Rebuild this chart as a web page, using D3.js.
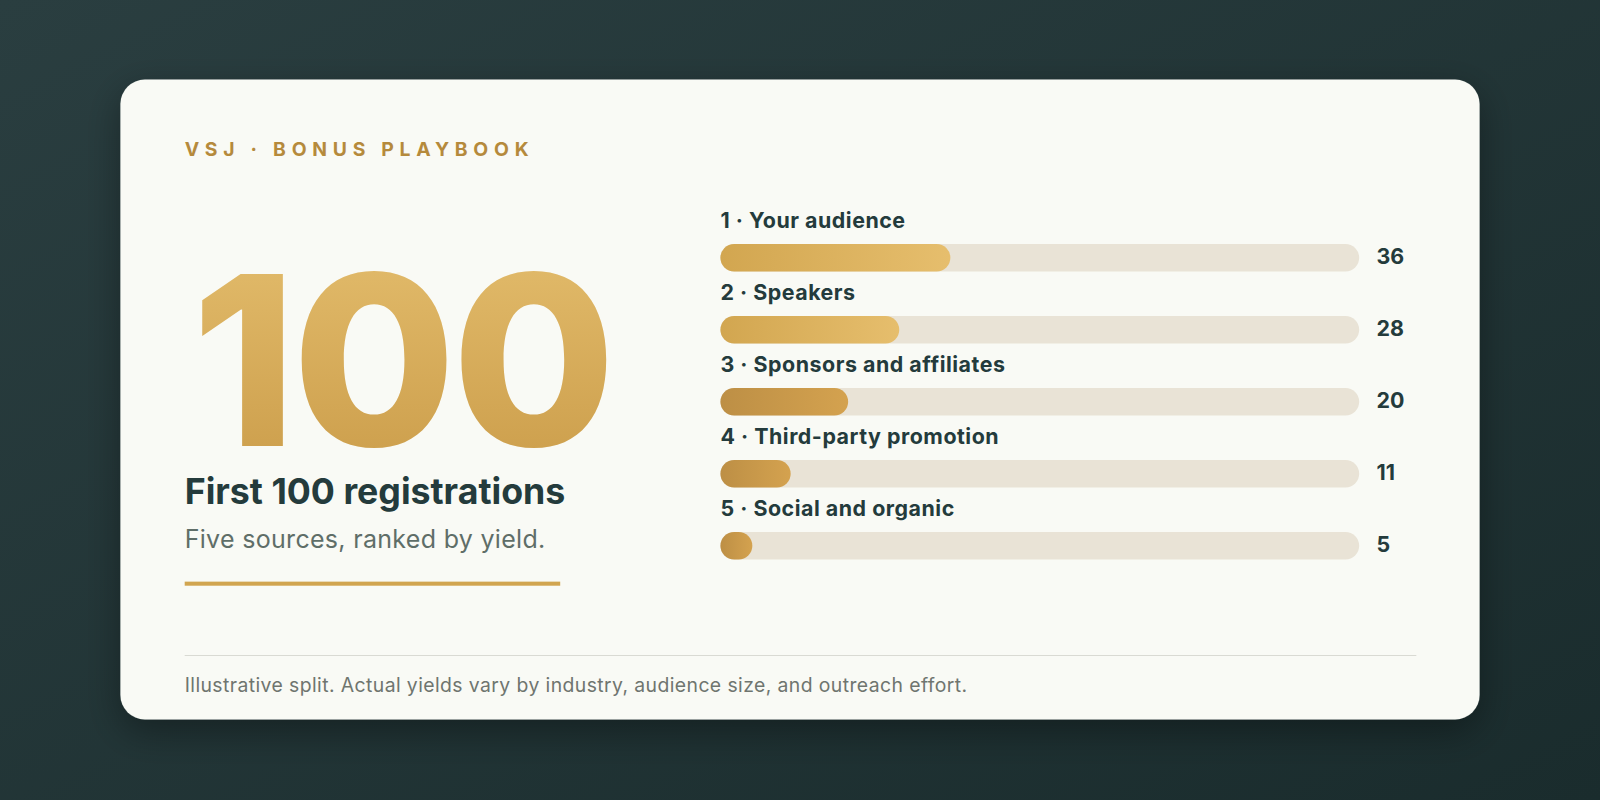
<!DOCTYPE html>
<html><head><meta charset="utf-8">
<script src="https://cdn.jsdelivr.net/npm/d3@7"></script>
<style>html,body{margin:0;padding:0;background:#21363a;}svg{display:block;}</style>
</head><body>
<svg id="c" width="1600" height="800"></svg>
<script>
const categories = ["1 · Your audience","2 · Speakers","3 · Sponsors and affiliates","4 · Third-party promotion","5 · Social and organic"];
const values = [36, 28, 20, 11, 5];
const total = 100;

const svg = d3.select("#c");
const defs = svg.append("defs");
const bg = defs.append("linearGradient").attr("id","bg").attr("x1",0).attr("y1",0).attr("x2",1).attr("y2",1);
bg.append("stop").attr("offset",0).attr("stop-color","#2a3e40");
bg.append("stop").attr("offset",1).attr("stop-color","#1a2c2d");
const big = defs.append("linearGradient").attr("id","big").attr("x1",0).attr("y1",0).attr("x2",0).attr("y2",1);
big.append("stop").attr("offset",0).attr("stop-color","#e5bf6f");
big.append("stop").attr("offset",1).attr("stop-color","#c99a47");
const g1 = defs.append("linearGradient").attr("id","g1");
g1.append("stop").attr("offset",0).attr("stop-color","#d2a650");
g1.append("stop").attr("offset",1).attr("stop-color","#e6be6d");
const g2 = defs.append("linearGradient").attr("id","g2");
g2.append("stop").attr("offset",0).attr("stop-color","#bd8f45");
g2.append("stop").attr("offset",1).attr("stop-color","#d4a24f");
const sh = defs.append("filter").attr("id","sh").attr("x","-10%").attr("y","-10%").attr("width","120%").attr("height","130%");
sh.append("feDropShadow").attr("dx",0).attr("dy",12).attr("stdDeviation",18).attr("flood-color","#000").attr("flood-opacity",0.35);

svg.append("rect").attr("width",1600).attr("height",800).attr("fill","url(#bg)");
const root = svg.append("g").attr("transform","scale(" + (1600/1568) + ")");
root.append("rect").attr("x",118).attr("y",78).attr("width",1332).attr("height",627).attr("rx",24).attr("fill","#f9faf5").attr("filter","url(#sh)");

const F = "Inter, 'Noto Sans', sans-serif";
root.append("text").attr("x",181).attr("y",153).text("VSJ · BONUS PLAYBOOK")
  .attr("font-family",F).attr("font-size",19).attr("font-weight",700).attr("letter-spacing",5.6).attr("fill","#b58a3c");
root.append("text").attr("x",188).attr("y",437).text("100")
  .attr("font-family",F).attr("font-size",232).attr("font-weight",800).attr("letter-spacing",-4).attr("fill","url(#big)");
root.append("text").attr("x",181).attr("y",494).text("First 100 registrations")
  .attr("font-family",F).attr("font-size",35).attr("font-weight",700).attr("fill","#243b3c");
root.append("text").attr("x",181).attr("y",537).text("Five sources, ranked by yield.")
  .attr("font-family",F).attr("font-size",24.5).attr("letter-spacing",0.3).attr("fill","#5f6e68");
root.append("rect").attr("x",181).attr("y",570).attr("width",368).attr("height",4).attr("fill","#d1a550");

const x = d3.scaleLinear().domain([0,total]).range([706,1332]);
const y = d3.scaleBand().domain(categories).range([203,556]).paddingInner(0);
const bh = 27;
const rows = root.selectAll("g.row").data(categories.map((c,i)=>({c,v:values[i],i}))).join("g").attr("class","row")
  .attr("transform",d=>`translate(0,${y(d.c)})`);
rows.append("text").attr("x",706).attr("y",20).text(d=>d.c)
  .attr("font-family",F).attr("font-size",21).attr("font-weight",700).attr("letter-spacing",0.5).attr("fill","#243b3c");
rows.append("rect").attr("x",x(0)).attr("y",36).attr("width",x(total)-x(0)).attr("height",bh).attr("rx",bh/2).attr("fill","#e9e3d6");
rows.append("rect").attr("x",x(0)).attr("y",36).attr("width",d=>Math.max(x(d.v)-x(0),bh)).attr("height",bh).attr("rx",bh/2)
  .attr("fill",d=>d.i<2?"url(#g1)":"url(#g2)");
rows.append("text").attr("x",1349).attr("y",56).text(d=>d.v)
  .attr("font-family",F).attr("font-size",21).attr("font-weight",700).attr("fill","#243b3c");

root.append("line").attr("x1",181).attr("x2",1388).attr("y1",642.5).attr("y2",642.5).attr("stroke","#d9dad3").attr("stroke-width",1);
root.append("text").attr("x",181).attr("y",678).text("Illustrative split. Actual yields vary by industry, audience size, and outreach effort.")
  .attr("font-family",F).attr("font-size",19).attr("letter-spacing",0.4).attr("fill","#6f756f");
</script>
</body></html>
